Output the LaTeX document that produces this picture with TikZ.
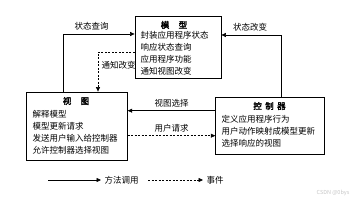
\documentclass[tikz,border=0pt]{standalone}
\usepackage{fontspec}
\newfontfamily\cjk{Noto Sans CJK SC}
\newfontfamily\cjkbold[FakeBold=2.5]{Noto Sans CJK SC}
\usetikzlibrary{arrows.meta}

\begin{document}
\begin{tikzpicture}[x=1pt, y=-1pt, auto,
  every node/.style={font=\cjk\fontsize{8.5}{12}\selectfont},
  part/.style={draw, line width=0.8pt, inner sep=0pt, align=left},
  title/.style={font=\cjkbold\fontsize{8.5}{12}\selectfont, inner sep=0pt},
  call/.style={-{Triangle[length=4.5pt,width=4pt]}, line width=0.6pt},
  event/.style={call, dash pattern=on 2pt off 1.5pt}]
  \useasboundingbox (0,0) rectangle (356,200);
  % the three parts
  \node[part, minimum width=86pt, minimum height=62pt, text width=75pt] (model) at (178,47)
    {\phantom{模}\\ 封装应用程序状态\\ 响应状态查询\\ 应用程序功能\\ 通知视图改变};
  \node[part, minimum width=100.6pt, minimum height=68pt, text width=89pt] (view) at (77,126)
    {\phantom{视}\\ 解释模型\\ 模型更新请求\\ 发送用户输入给控制器\\ 允许控制器选择视图};
  \node[part, minimum width=108.6pt, minimum height=57pt, text width=97pt] (ctrl) at (270,125.7)
    {\phantom{控}\\ 定义应用程序行为\\ 用户动作映射成模型更新\\ 选择响应的视图};
  \node[title] (model-title) at (174,25) {模\hspace{1.1em}型};
  \node[title] (view-title) at (76,101) {视\hspace{1.1em}图};
  \node[title] (ctrl-title) at (269.5,106) {控\hspace{0.4em}制\hspace{0.4em}器};
  % connectors
  \coordinate (sq) at (63,34);
  \coordinate (tz) at (98,52);
  \coordinate (sg) at (281,35);
  \coordinate (vs) at (0,110.7);
  \coordinate (ur) at (0,135.7);
  \draw[call] (sq |- view.north) |- node[pos=0.7] {状态查询} (model.west |- sq);
  \draw[event] (model.west |- tz) -| node[pos=0.67] {通知改变} (tz |- view.north);
  \draw[call] (sg |- ctrl.north) |- node[pos=0.76, swap] {状态改变} (model.east |- sg);
  \draw[call] (ctrl.west |- vs) -- node[swap] {视图选择} (view.east |- vs);
  \draw[event] (view.east |- ur) -- node {用户请求} (ctrl.west |- ur);
  % legend
  \coordinate (lc) at (48,180);
  \coordinate (le) at (148,180);
  \node[anchor=west] (calltxt) at (101,180) {方法调用};
  \node[anchor=west] (evttxt) at (203,180) {事件};
  \draw[call] (lc) -- (calltxt);
  \draw[event] (le) -- (evttxt);
  \node[text=gray!45, font=\cjk\fontsize{5.5}{6}\selectfont] (mark) at (333,193) {CSDN @0bys};
\end{tikzpicture}
\end{document}
